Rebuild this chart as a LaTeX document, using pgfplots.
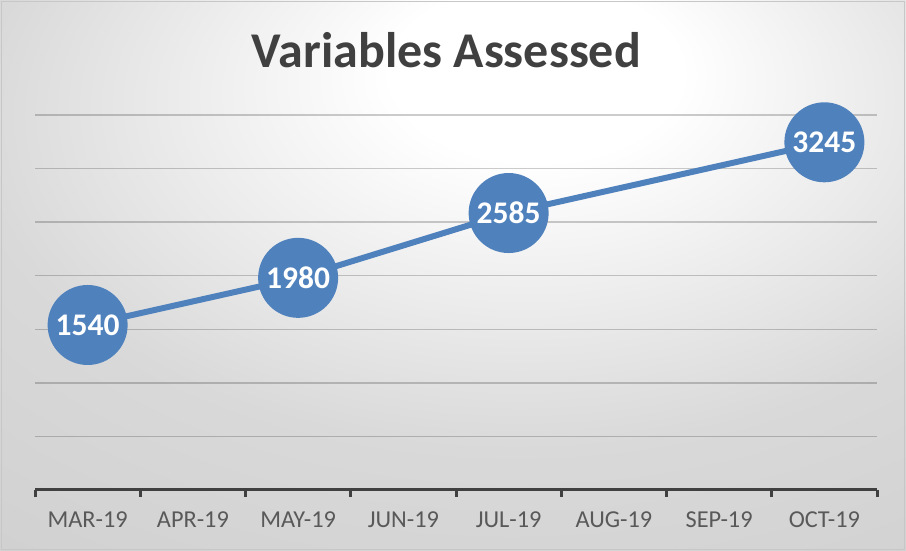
\documentclass[border=0pt]{standalone}
\usepackage{fontspec}
\setmainfont{Carlito}
\usepackage{pgfplots}
\pgfplotsset{compat=1.18}
\definecolor{blueS}{HTML}{4F81BD}
\definecolor{axisgray}{HTML}{404040}
\definecolor{labgray}{HTML}{595959}
\pgfdeclareradialshading{bgshade}{\pgfpoint{5bp}{20bp}}{color(0bp)=(white); color(8bp)=(white); color(30bp)=(white!85!black); color(55bp)=(white!80!black); color(100bp)=(white!78!black)}
\begin{document}
\begin{tikzpicture}[x=1bp,y=1bp]
\shade[shading=bgshade] (0,0) rectangle (906,551);
\draw[black!22, line width=1.5bp] (1.5,1.5) rectangle (904.5,549.5);
\node[anchor=base, text=axisgray, font=\fontsize{50bp}{60bp}\selectfont\bfseries] at (446.5,483) {Variables Assessed};
\begin{axis}[
  at={(35bp,61bp)}, anchor=south west,
  scale only axis, width=842bp, height=375bp,
  xmin=0, xmax=8, ymin=0, ymax=3500,
  clip=false,
  axis x line*=bottom, axis y line*=left,
  y axis line style={draw=none},
  x axis line style={-, draw=axisgray, line width=3bp},
  xtick={0.5,1.5,...,7.5},
  xticklabels={MAR-19,APR-19,MAY-19,JUN-19,JUL-19,AUG-19,SEP-19,OCT-19},
  major tick length=0pt,
  minor xtick={0,1,...,8},
  minor tick length=7bp,
  tick align=outside,
  minor x tick style={draw=axisgray, line width=3bp},
  xticklabel style={anchor=base, yshift=-38bp, text=labgray, font=\fontsize{24.3bp}{29bp}\selectfont},
  ytick={500,1000,...,3500},
  yticklabels={},
  ytick style={draw=none},
  ymajorgrids,
  major grid style={black, opacity=0.2, line width=1.5bp},
]
\addplot[blueS, line width=6bp, mark=*, mark size=37bp,
  mark options={draw=none, fill=blueS},
  nodes near coords, point meta=explicit symbolic,
  every node near coord/.style={anchor=center, text=white, font=\fontsize{31.5bp}{38bp}\selectfont\bfseries}]
  coordinates {(0.5,1540) [1540] (2.5,1980) [1980] (4.5,2585) [2585] (7.5,3245) [3245]};
\end{axis}
\end{tikzpicture}
\end{document}
